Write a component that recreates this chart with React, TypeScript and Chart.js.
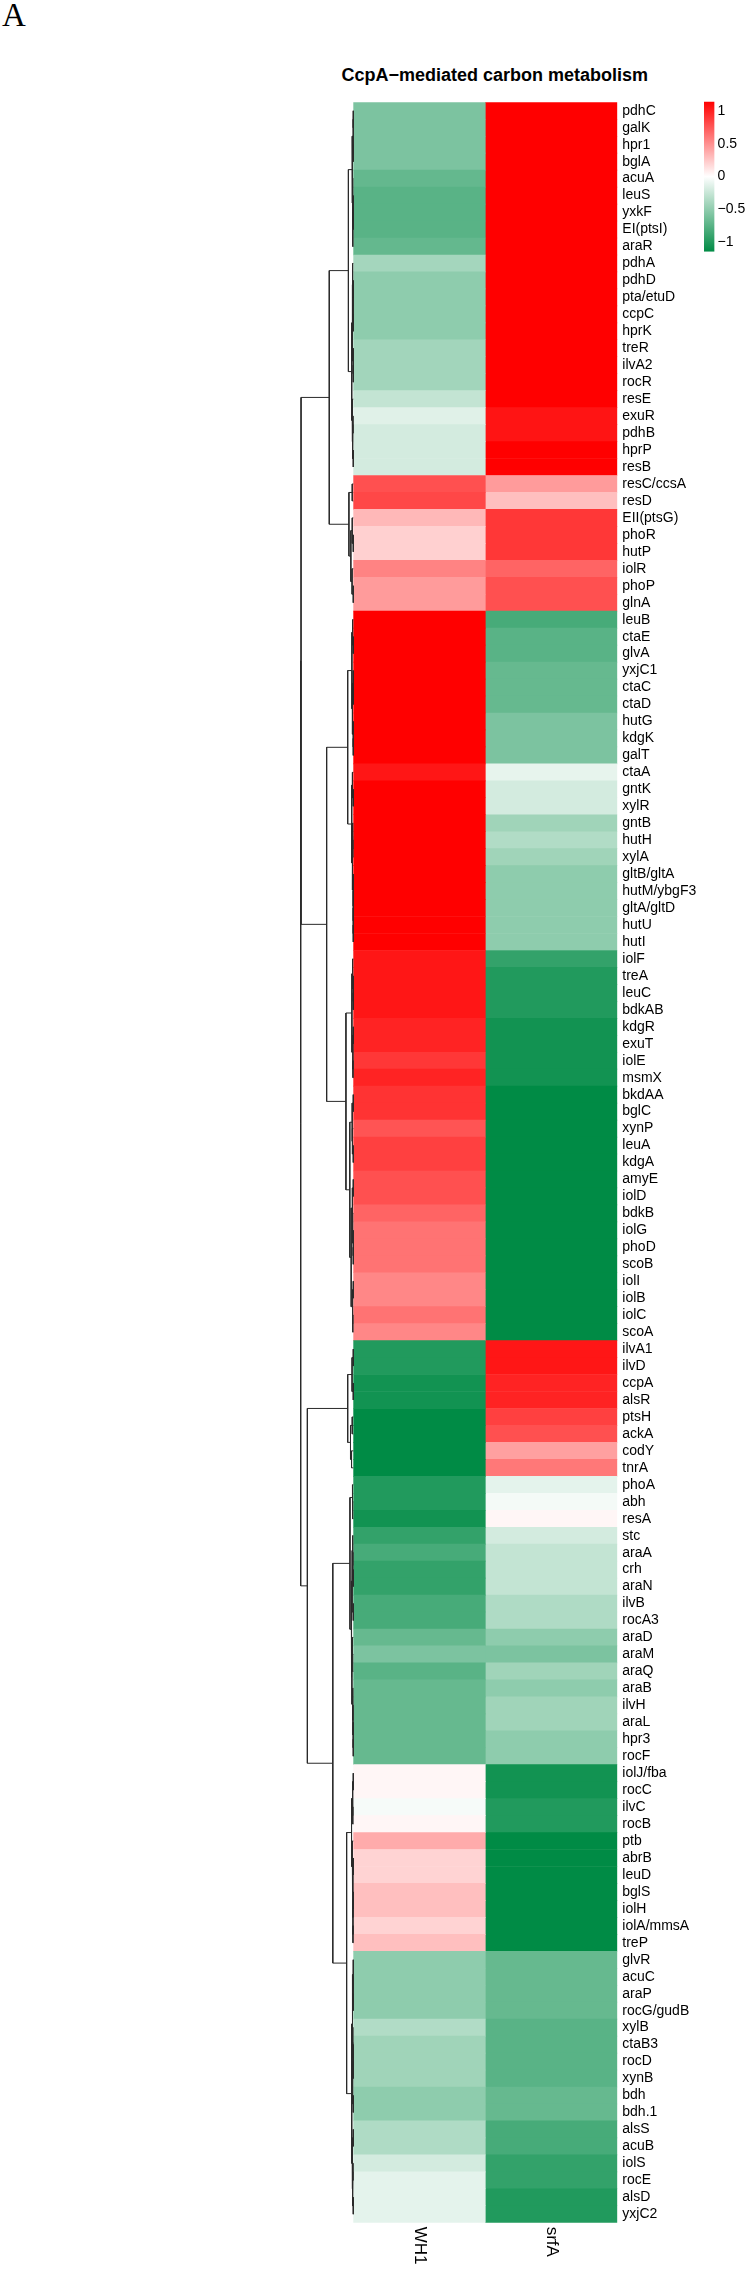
import React, { useEffect, useRef } from 'react';
import { Chart, registerables } from 'chart.js';

Chart.register(...registerables);

// ---------- data ----------
const chartTitle = 'CcpA\u2212mediated carbon metabolism';
const panelLetter = 'A';
const columns = ['WH1', 'srfA'];

const genes = [
  'pdhC', 'galK', 'hpr1', 'bglA', 'acuA', 'leuS', 'yxkF', 'EI(ptsI)', 'araR', 'pdhA',
  'pdhD', 'pta/etuD', 'ccpC', 'hprK', 'treR', 'ilvA2', 'rocR', 'resE', 'exuR', 'pdhB',
  'hprP', 'resB', 'resC/ccsA', 'resD', 'EII(ptsG)', 'phoR', 'hutP', 'iolR', 'phoP', 'glnA',
  'leuB', 'ctaE', 'glvA', 'yxjC1', 'ctaC', 'ctaD', 'hutG', 'kdgK', 'galT', 'ctaA',
  'gntK', 'xylR', 'gntB', 'hutH', 'xylA', 'gltB/gltA', 'hutM/ybgF3', 'gltA/gltD', 'hutU', 'hutI',
  'iolF', 'treA', 'leuC', 'bdkAB', 'kdgR', 'exuT', 'iolE', 'msmX', 'bkdAA', 'bglC',
  'xynP', 'leuA', 'kdgA', 'amyE', 'iolD', 'bdkB', 'iolG', 'phoD', 'scoB', 'iolI',
  'iolB', 'iolC', 'scoA', 'ilvA1', 'ilvD', 'ccpA', 'alsR', 'ptsH', 'ackA', 'codY',
  'tnrA', 'phoA', 'abh', 'resA', 'stc', 'araA', 'crh', 'araN', 'ilvB', 'rocA3',
  'araD', 'araM', 'araQ', 'araB', 'ilvH', 'araL', 'hpr3', 'rocF', 'iolJ/fba', 'rocC',
  'ilvC', 'rocB', 'ptb', 'abrB', 'leuD', 'bglS', 'iolH', 'iolA/mmsA', 'treP', 'glvR',
  'acuC', 'araP', 'rocG/gudB', 'xylB', 'ctaB3', 'rocD', 'xynB', 'bdh', 'bdh.1', 'alsS',
  'acuB', 'iolS', 'rocE', 'alsD', 'yxjC2',
];

const wh1Values = [
  -0.59, -0.59, -0.59, -0.59, -0.70, -0.75, -0.75, -0.75, -0.70, -0.41,
  -0.51, -0.51, -0.51, -0.51, -0.42, -0.42, -0.42, -0.27, -0.14, -0.20,
  -0.20, -0.20, 0.79, 0.83, 0.32, 0.21, 0.21, 0.56, 0.45, 0.45,
  1.15, 1.15, 1.15, 1.15, 1.15, 1.15, 1.15, 1.15, 1.15, 1.05,
  1.15, 1.15, 1.15, 1.15, 1.15, 1.15, 1.15, 1.15, 1.15, 1.15,
  1.05, 1.05, 1.05, 1.05, 0.99, 0.99, 0.90, 0.99, 0.92, 0.92,
  0.77, 0.86, 0.86, 0.79, 0.79, 0.70, 0.63, 0.63, 0.63, 0.54,
  0.54, 0.63, 0.54, -1.00, -1.00, -1.07, -1.07, -1.15, -1.15, -1.15,
  -1.15, -1.00, -1.00, -1.07, -0.92, -0.83, -0.92, -0.92, -0.83, -0.83,
  -0.69, -0.59, -0.75, -0.69, -0.69, -0.69, -0.69, -0.69, 0.04, 0.04,
  -0.04, 0.04, 0.38, 0.20, 0.20, 0.29, 0.29, 0.20, 0.29, -0.51,
  -0.51, -0.51, -0.51, -0.35, -0.43, -0.43, -0.43, -0.51, -0.51, -0.36,
  -0.36, -0.20, -0.12, -0.12, -0.12,
];

const srfAValues = [
  1.15, 1.15, 1.15, 1.15, 1.15, 1.15, 1.15, 1.15, 1.15, 1.15,
  1.15, 1.15, 1.15, 1.15, 1.15, 1.15, 1.15, 1.15, 1.06, 1.06,
  1.15, 1.15, 0.45, 0.29, 0.90, 0.90, 0.90, 0.70, 0.79, 0.79,
  -0.83, -0.75, -0.75, -0.69, -0.69, -0.69, -0.59, -0.59, -0.59, -0.11,
  -0.20, -0.20, -0.43, -0.35, -0.43, -0.51, -0.51, -0.51, -0.51, -0.51,
  -0.92, -1.00, -1.00, -1.00, -1.07, -1.07, -1.07, -1.07, -1.15, -1.15,
  -1.15, -1.15, -1.15, -1.15, -1.15, -1.15, -1.15, -1.15, -1.15, -1.15,
  -1.15, -1.15, -1.15, 1.05, 1.05, 0.99, 0.99, 0.86, 0.79, 0.43,
  0.61, -0.12, -0.05, 0.04, -0.20, -0.27, -0.27, -0.27, -0.36, -0.36,
  -0.51, -0.59, -0.43, -0.51, -0.43, -0.43, -0.51, -0.51, -1.07, -1.07,
  -1.00, -1.00, -1.15, -1.15, -1.15, -1.15, -1.15, -1.15, -1.15, -0.69,
  -0.69, -0.69, -0.69, -0.75, -0.75, -0.75, -0.75, -0.69, -0.69, -0.83,
  -0.83, -0.92, -0.92, -1.00, -1.00,
];

const legendTicks = [-1, -0.5, 0, 0.5, 1];
const colorMin = -1.15;
const colorMax = 1.15;

// Row dendrogram: node = [height, left, right]; leaf = row index
const treeA1: any = [0.28,
  [0.07, [0.005, [0.003, 0, 1], [0.003, 2, 3]], [0.04, 4, [0.03, [0.005, 5, [0.003, 6, 7]], 8]]],
  [0.09, [0.05, [0.04, 9, [0.005, [0.003, 10, 11], [0.003, 12, 13]]], [0.005, 14, [0.003, 15, 16]]],
    [0.06, 17, [0.04, [0.02, 18, 19], [0.003, 20, 21]]]]];
const treeA2: any = [0.25, [0.06, 22, 23], [0.14, [0.06, 24, [0.003, 25, 26]], [0.07, 27, [0.003, 28, 29]]]];
const treeB1: any = [0.32,
  [0.08, [0.04, 30, [0.003, 31, 32]], [0.05, [0.003, 33, [0.003, 34, 35]], [0.003, 36, [0.003, 37, 38]]]],
  [0.09, [0.05, 39, [0.003, 40, 41]], [0.05, [0.04, 42, [0.03, 43, 44]], [0.003, 45, [0.003, 46, [0.003, 47, [0.003, 48, 49]]]]]]];
const treeB2: any = [0.42,
  [0.08, [0.04, 50, [0.003, 51, [0.003, 52, 53]]], [0.03, [0.003, 54, 55], [0.02, 56, 57]]],
  [0.2, [0.07, [0.003, 58, 59], [0.05, 60, [0.003, 61, 62]]],
    [0.12, [0.06, [0.003, 63, 64], [0.04, 65, [0.003, 66, [0.003, 67, 68]]]], [0.05, [0.003, 69, 70], [0.03, 71, 72]]]]];
const treeC1: any = [0.32, [0.07, [0.003, 73, 74], [0.003, 75, 76]], [0.16, [0.06, 77, 78], [0.1, 79, 80]]];
const treeC2a: any = [0.19, [0.05, 81, [0.04, 82, 83]],
  [0.12, [0.07, [0.04, 84, [0.03, 85, [0.003, 86, 87]]], [0.003, 88, 89]],
    [0.08, [0.05, 90, [0.04, 91, 92]], [0.04, 93, [0.02, 94, [0.01, 95, [0.003, 96, 97]]]]]]];
const treeC2b1: any = [0.1, [0.04, [0.003, 98, 99], [0.03, 100, 101]],
  [0.06, 102, [0.03, [0.003, 103, 104], [0.02, [0.003, 105, 106], [0.02, 107, 108]]]]];
const treeC2b2: any = [0.09,
  [0.05, [0.003, 109, [0.003, 110, [0.003, 111, 112]]], [0.04, [0.03, 113, [0.003, 114, [0.003, 115, 116]]], [0.003, 117, 118]]],
  [0.06, [0.003, 119, 120], [0.04, [0.02, 121, 122], [0.003, 123, 124]]]];
const upperHeights = { A: 1.37, B: 1.52, AB: 2.98, C2b: 0.38, C2: 1.17, C: 2.62, root: 3.0 };
const treeRoot: any = [upperHeights.root,
  [upperHeights.AB, [upperHeights.A, treeA1, treeA2], [upperHeights.B, treeB1, treeB2]],
  [upperHeights.C, treeC1, [upperHeights.C2, treeC2a, [upperHeights.C2b, treeC2b1, treeC2b2]]]];

// ---------- helpers ----------
const FONT = '"Liberation Sans", Arial, Helvetica, sans-serif';
const GREEN = [0, 139, 69];
const RED = [255, 0, 0];

function colorFor(v: number): string {
  const t = Math.max(-1, Math.min(1, v >= 0 ? v / colorMax : v / -colorMin));
  const end = t >= 0 ? RED : GREEN;
  const s = Math.abs(t);
  const c = end.map((e) => Math.round(255 * (1 - s) + e * s));
  return `rgb(${c[0]},${c[1]},${c[2]})`;
}

function fmtTick(v: number): string {
  return v < 0 ? '\u2212' + String(Math.abs(v)) : String(v);
}

function buildDendro(node: any, out: { x: number; y: number }[][]): { x: number; y: number } {
  if (typeof node === 'number') return { x: 0, y: node };
  const [h, l, r] = node;
  const a = buildDendro(l, out);
  const b = buildDendro(r, out);
  out.push([{ x: a.x, y: a.y }, { x: h, y: a.y }, { x: h, y: b.y }, { x: b.x, y: b.y }]);
  return { x: h, y: (a.y + b.y) / 2 };
}

// ---------- layout constants ----------
const HM_LEFT = 353.3;
const HM_RIGHT = 617.3;
const HM_TOP = 102.3;
const HM_BOTTOM = 2222.7;
const PAGE_W = 752;
const PAGE_H = 2272;
const TREE_LEFT = 300.7;

const colLabelPlugin = {
  id: 'colLabels',
  afterDraw(chart: any) {
    const { ctx, chartArea } = chart;
    const xs = chart.scales.x;
    ctx.save();
    ctx.font = `17px ${FONT}`;
    ctx.fillStyle = '#000';
    ctx.textAlign = 'left';
    ctx.textBaseline = 'middle';
    columns.forEach((name, i) => {
      const x = xs.getPixelForValue(i + 0.5);
      ctx.save();
      ctx.translate(x, chartArea.bottom + 4);
      ctx.rotate(Math.PI / 2);
      ctx.fillText(name, 0, 0);
      ctx.restore();
    });
    ctx.restore();
  },
};

export default function App() {
  const heatRef = useRef<HTMLCanvasElement>(null);
  const dendRef = useRef<HTMLCanvasElement>(null);
  const legRef = useRef<HTMLCanvasElement>(null);

  useEffect(() => {
    const charts: Chart[] = [];

    // Heatmap
    const colValues = [wh1Values, srfAValues];
    charts.push(new Chart(heatRef.current!, {
      type: 'bar',
      data: {
        labels: genes,
        datasets: columns.map((name, ci) => ({
          label: name,
          data: genes.map(() => [ci, ci + 1]),
          backgroundColor: colValues[ci].map(colorFor),
          borderWidth: 0,
          barPercentage: 1,
          categoryPercentage: 1,
          grouped: false,
        })) as any,
      },
      options: {
        indexAxis: 'y',
        animation: false,
        responsive: false,
        devicePixelRatio: 1,
        events: [],
        layout: { padding: { left: HM_LEFT, top: HM_TOP, right: 0, bottom: PAGE_H - HM_BOTTOM } },
        plugins: { legend: { display: false }, tooltip: { enabled: false } },
        scales: {
          x: { type: 'linear', min: 0, max: columns.length, display: false },
          y: {
            type: 'category',
            position: 'right',
            grid: { display: false, drawTicks: false },
            border: { display: false },
            ticks: { autoSkip: false, padding: 5, color: '#000', font: { family: FONT, size: 14 } },
            afterFit: (s: any) => { s.width = PAGE_W - HM_RIGHT; },
          },
        },
      } as any,
      plugins: [colLabelPlugin],
    }));

    // Dendrogram
    const segs: { x: number; y: number }[][] = [];
    buildDendro(treeRoot, segs);
    const dendLeft = 290;
    const dendW = 70;
    charts.push(new Chart(dendRef.current!, {
      type: 'scatter',
      data: {
        datasets: segs.map((pts) => ({
          data: pts,
          showLine: true,
          borderColor: '#2a2a2a',
          borderWidth: 1,
          pointRadius: 0,
          tension: 0,
          clip: false,
        })) as any,
      },
      options: {
        animation: false,
        responsive: false,
        devicePixelRatio: 1,
        events: [],
        layout: {
          padding: {
            left: TREE_LEFT - dendLeft,
            right: dendLeft + dendW - HM_LEFT,
            top: HM_TOP,
            bottom: PAGE_H - HM_BOTTOM,
          },
        },
        plugins: { legend: { display: false }, tooltip: { enabled: false } },
        scales: {
          x: { type: 'linear', min: 0, max: upperHeights.root, reverse: true, display: false },
          y: { type: 'linear', min: -0.5, max: genes.length - 0.5, reverse: true, display: false },
        },
      } as any,
    }));

    // Colour legend
    charts.push(new Chart(legRef.current!, {
      type: 'bar',
      data: {
        labels: ['scale'],
        datasets: [{
          data: [[colorMin, colorMax]] as any,
          borderWidth: 0,
          barPercentage: 1,
          categoryPercentage: 1,
          inflateAmount: 0,
          backgroundColor: (c: any) => {
            const chart = c.chart;
            if (!chart.chartArea) return 'rgba(0,0,0,0)';
            const ys = chart.scales.y;
            const g = chart.ctx.createLinearGradient(0, ys.getPixelForValue(colorMin), 0, ys.getPixelForValue(colorMax));
            g.addColorStop(0, colorFor(colorMin));
            g.addColorStop(0.5, colorFor(0));
            g.addColorStop(1, colorFor(colorMax));
            return g;
          },
        }],
      },
      options: {
        animation: false,
        responsive: false,
        devicePixelRatio: 1,
        events: [],
        layout: { padding: { left: 14, right: 0, top: 9.3, bottom: 18.3 } },
        plugins: { legend: { display: false }, tooltip: { enabled: false } },
        scales: {
          x: { display: false },
          y: {
            type: 'linear',
            min: colorMin,
            max: colorMax,
            position: 'right',
            grid: { display: false, drawTicks: false },
            border: { display: false },
            afterBuildTicks: (s: any) => { s.ticks = legendTicks.map((value) => ({ value })); },
            afterFit: (s: any) => { s.width = 37.4; },
            ticks: {
              padding: 3,
              color: '#000',
              font: { family: FONT, size: 14 },
              callback: (v: any) => fmtTick(Number(v)),
            },
          },
        },
      } as any,
    }));

    return () => charts.forEach((c) => c.destroy());
  }, []);

  return (
    <div style={{ position: 'absolute', left: 0, top: 0, width: PAGE_W, height: PAGE_H, background: '#fff', overflow: 'hidden' }}>
      <div style={{ position: 'absolute', left: 2, top: -1, font: '33px "Liberation Serif", "Times New Roman", serif', lineHeight: '33px', color: '#000' }}>
        {panelLetter}
      </div>
      <div style={{ position: 'absolute', left: 294.8, top: 64.7, width: 400, textAlign: 'center', font: `bold 18px ${FONT}`, lineHeight: '20px', color: '#000', whiteSpace: 'nowrap' }}>
        {chartTitle}
      </div>
      <canvas ref={heatRef} width={PAGE_W} height={PAGE_H} style={{ position: 'absolute', left: 0, top: 0 }} />
      <canvas ref={dendRef} width={70} height={PAGE_H} style={{ position: 'absolute', left: 290, top: 0 }} />
      <canvas ref={legRef} width={62} height={180} style={{ position: 'absolute', left: 690, top: 90 }} />
    </div>
  );
}
